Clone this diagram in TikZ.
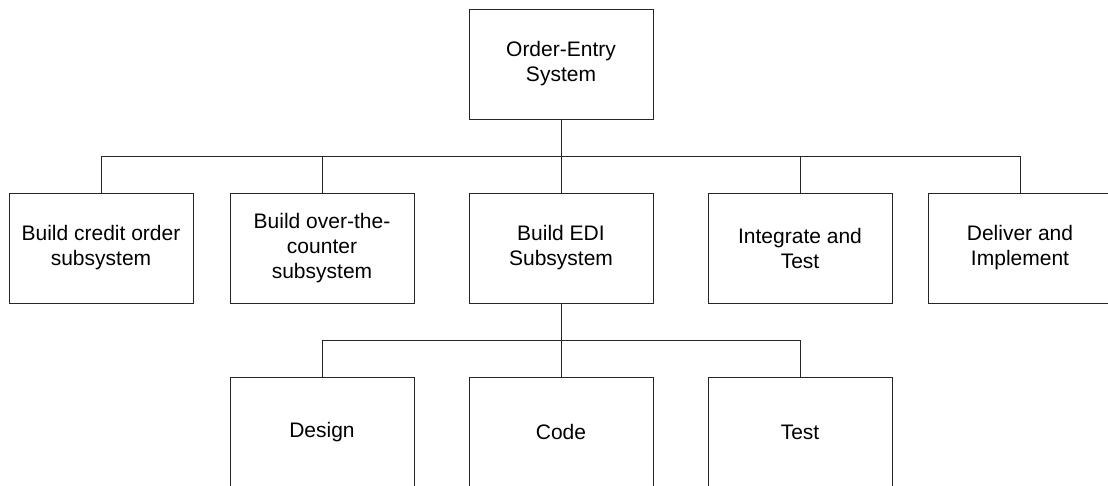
\documentclass[tikz,border=0pt]{standalone}
\usepackage{fontspec}
\setmainfont{Liberation Sans}
\usetikzlibrary{positioning}
\begin{document}
\begin{tikzpicture}
[x=1pt, y=1pt, font=\fontsize{21}{25}\selectfont]
\tikzstyle{task}=[rectangle, draw=black!85, line width=0.9pt, fill=white, align=center, inner sep=0pt, minimum width=184pt, minimum height=110pt]
\tikzstyle{wire}=[draw=black!85, line width=0.9pt]
\useasboundingbox (0,0) rectangle (1108,-486);
\clip (0,0) rectangle (1108,-486);
% top level
\node[task]	(OE)	at (561,-64)	{Order-Entry\\System};
% second level
\node[task]	(BC)	at (101,-248)	{Build credit order\\subsystem};
\node[task]	(BO)	at (322,-248)	{Build over-the-\\counter\\subsystem};
\node[task]	(BE)	at (561,-248)	{Build EDI\\Subsystem};
\node[task]	(IT)	at (800,-248)	{Integrate and\\Test};
\node[task]	(DI)	at (1020,-248)	{Deliver and\\Implement};
% third level
\node[task]	(DS)	at (322,-432)	{Design};
\node[task]	(CD)	at (561,-432)	{Code};
\node[task]	(TS)	at (800,-432)	{Test};
 
\coordinate	(J1)	at (561,-156);
\coordinate	(J2)	at (561,-340);
 
\draw[wire]	(OE)--(J1);
\foreach \n in {BC,BO,BE,IT,DI}
	\draw[wire]	(\n.north) |- (J1);
\draw[wire]	(BE)--(J2);
\foreach \n in {DS,CD,TS}
	\draw[wire]	(\n.north) |- (J2);
\end{tikzpicture}
\end{document}
